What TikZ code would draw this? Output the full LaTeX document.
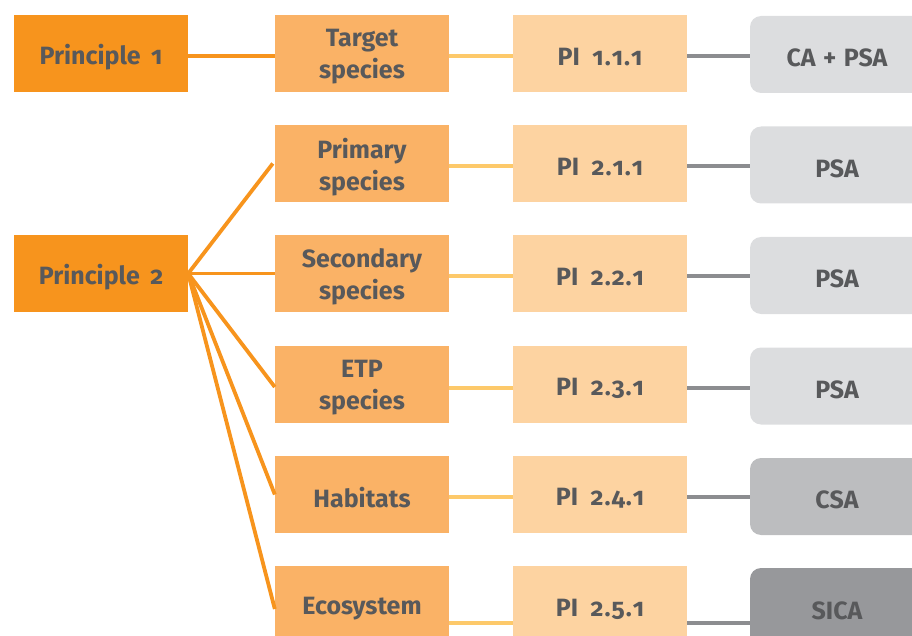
\documentclass[tikz,border=0pt]{standalone}
\usepackage{fontspec}
\setmainfont{Fira Sans}[Numbers=OldStyle]
\newcommand{\wgap}{\hspace{0.42em}}
\newcommand{\pinum}[3]{PI\hspace{0.5em}#1\kern1pt.\kern1pt#2\kern1pt.\kern1pt#3}
\definecolor{txt}{HTML}{58595B}
\definecolor{porange}{HTML}{F7941D}
\definecolor{corange}{HTML}{FAB266}
\definecolor{pale}{HTML}{FDD3A1}
\definecolor{yline}{HTML}{FDC96A}
\definecolor{gline}{HTML}{8C8D90}
\definecolor{gone}{HTML}{DCDDDF}
\definecolor{gtwo}{HTML}{BCBDBF}
\definecolor{gthree}{HTML}{97989B}
\tikzset{
  box/.style={minimum width=174pt, minimum height=77pt, inner sep=0pt},
  lbl/.style={text=txt, align=center, inner sep=0pt,
    font=\fontsize{25}{32}\selectfont\bfseries},
  tx/.style={label={[lbl, yshift=-3.5pt]center:{#1}}},
  txlow/.style={label={[lbl, yshift=17pt]center:{#1}}},
  pbox/.style={box, fill=porange},
  cbox/.style={box, fill=corange},
  ibox/.style={box, fill=pale},
  abox/.style={box, rounded corners=11pt},
  tall/.style={minimum height=120pt},
  oline/.style={draw=porange, line width=3.8pt},
  yl/.style={draw=yline, line width=3.8pt},
  gl/.style={draw=gline, line width=3.8pt}
}
\begin{document}
\begin{tikzpicture}[x=1pt, y=-1pt]
\useasboundingbox (0,0) rectangle (912,636);
\clip (0,0) rectangle (912,636);
% column 1
\node[pbox, tx={Principle\wgap1}] (p1) at (101,53.5) {};
\node[pbox, tx={Principle\wgap2}] (p2) at (101,273.5) {};
% column 2
\node[cbox, tx={Target\\species}] (b1) at (362,53.5) {};
\node[cbox, tx={Primary\\species}] (b2) at (362,163.5) {};
\node[cbox, tx={Secondary\\species}] (b3) at (362,273.5) {};
\node[cbox, tx={ETP\\species}] (b4) at (362,384.5) {};
\node[cbox, tx={Habitats}] (b5) at (362,494.5) {};
\node[cbox, tall, txlow={Ecosystem}] (b6) at (362,626) {};
% column 3
\node[ibox, tx={\pinum{1}{1}{1}}] (c1) at (600,53.5) {};
\node[ibox, tx={\pinum{2}{1}{1}}] (c2) at (600,163.5) {};
\node[ibox, tx={\pinum{2}{2}{1}}] (c3) at (600,273.5) {};
\node[ibox, tx={\pinum{2}{3}{1}}] (c4) at (600,384.5) {};
\node[ibox, tx={\pinum{2}{4}{1}}] (c5) at (600,494.5) {};
\node[ibox, tall, txlow={\pinum{2}{5}{1}}] (c6) at (600,626) {};
% column 4
\node[abox, fill=gone, tx={CA\hspace{0.3em}+\hspace{0.3em}PSA}] (d1) at (837,54.5) {};
\node[abox, fill=gone, tx={PSA}] (d2) at (837,165) {};
\node[abox, fill=gone, tx={PSA}] (d3) at (837,275.5) {};
\node[abox, fill=gone, tx={PSA}] (d4) at (837,386) {};
\node[abox, fill=gtwo, tx={CSA}] (d5) at (837,496.5) {};
\node[abox, fill=gthree, tall, txlow={SICA}] (d6) at (837,628) {};
% principle connectors
\draw[oline] ([yshift=-2.5pt]p1.east) -- ([yshift=-2.5pt]b1.west);
\draw[oline] (p2.east) -- ([xshift=-2pt]b2.west);
\draw[oline] (p2.east) -- (b3.west);
\draw[oline] (p2.east) -- ([yshift=-2.5pt]b4.west);
\draw[oline] (p2.east) -- (b5.west);
\draw[oline] (p2.east) -- ([yshift=17pt]b6.west);
% yellow connectors
\draw[yl] ([yshift=-2.5pt]b1.east) -- ([yshift=-2.5pt]c1.west);
\draw[yl] ([yshift=-2.5pt]b2.east) -- ([yshift=-2.5pt]c2.west);
\draw[yl] ([yshift=-2.5pt]b3.east) -- ([yshift=-2.5pt]c3.west);
\draw[yl] ([yshift=-3.5pt]b4.east) -- ([yshift=-3.5pt]c4.west);
\draw[yl] ([yshift=-2.5pt]b5.east) -- ([yshift=-2.5pt]c5.west);
\draw[yl] ([yshift=3pt]b6.east) -- ([yshift=3pt]c6.west);
% gray connectors
\foreach \i/\s in {1/-2.5, 2/-2.5, 3/-2.5, 4/-3.5, 5/-2.5, 6/3} {
  \coordinate (g\i) at ([yshift=\s pt]c\i.east);
  \draw[gl] (g\i) -- (g\i -| d\i.west);
}
\end{tikzpicture}
\end{document}
